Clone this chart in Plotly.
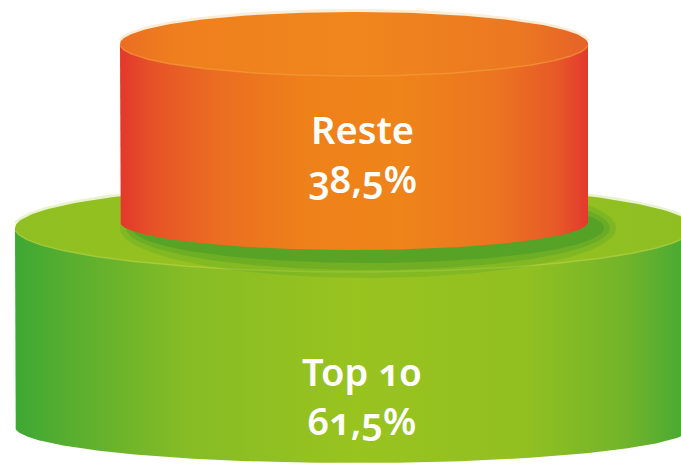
import numpy as np
import plotly.graph_objects as go

# ---- data ----
categories = ["Top 10", "Reste"]          # bottom to top
values = [61.5, 38.5]                      # percent
labels = [f"{c}<br>{v:.1f}%".replace(".", ",") for c, v in zip(categories, values)]

# ---- style / geometry (pixel-like axis space) ----
W, H = 681, 464
CX = 354
rx = [339, 234]
top_cy = [228, 44]
top_ry = [44, 32]
bot_cy = [427, 222]
bot_ry = [36, 28]
label_y = [395, 153]
label_x = 362

side_scales = [
    [[0, "#3DA834"], [0.08, "#58AE2F"], [0.25, "#86BC25"], [0.5, "#99C31F"],
     [0.75, "#92C021"], [0.9, "#72B42A"], [1, "#42A934"]],
    [[0, "#E2382C"], [0.07, "#E65227"], [0.2, "#EB6C22"], [0.4, "#EE8119"],
     [0.6, "#EF841A"], [0.8, "#EC7520"], [0.93, "#E75A28"], [1, "#E3392D"]],
]
top_scales = [
    [[0, "#8FBF22"], [0.5, "#9CC41E"], [1, "#8DBE23"]],
    [[0, "#EB6E23"], [0.12, "#EF7F1E"], [0.5, "#F0861C"], [0.85, "#EC7822"], [1, "#E66228"]],
]
rim_colors = ["#B4D245", "#F59A3A"]
glow_colors = ["#DDEBB0", "#FBE2B8"]


def arc(cx, cy, a, b, t0, t1, n=240):
    t = np.linspace(t0, t1, n)
    return cx + a * np.cos(t), cy + b * np.sin(t)


fig = go.Figure()

for i in range(len(values)):
    # side
    bx, by = arc(CX, bot_cy[i], rx[i], bot_ry[i], np.pi, 0)
    xs = np.concatenate([[CX - rx[i]], bx, [CX + rx[i], CX - rx[i]]])
    ys = np.concatenate([[top_cy[i]], by, [top_cy[i], top_cy[i]]])
    fig.add_trace(go.Scatter(x=xs, y=ys, mode="lines", fill="toself", line=dict(width=0),
                             fillgradient=dict(type="horizontal", colorscale=side_scales[i]),
                             hoverinfo="skip", showlegend=False))
    # soft glow on back edge of top face
    gx, gy = arc(CX, top_cy[i], rx[i] + 1, top_ry[i] + 1, np.pi + 0.1, 2 * np.pi - 0.1)
    fig.add_trace(go.Scatter(x=gx, y=gy, mode="lines", line=dict(width=4, color=glow_colors[i]),
                             opacity=0.6, hoverinfo="skip", showlegend=False))
    # top face
    tx, ty = arc(CX, top_cy[i], rx[i], top_ry[i], 0, 2 * np.pi)
    fig.add_trace(go.Scatter(x=tx, y=ty, mode="lines", fill="toself", line=dict(width=0),
                             fillgradient=dict(type="horizontal", colorscale=top_scales[i]),
                             hoverinfo="skip", showlegend=False))
    # front rim highlight
    fx, fy = arc(CX, top_cy[i], rx[i], top_ry[i], 0.05, np.pi - 0.05)
    fig.add_trace(go.Scatter(x=fx, y=fy, mode="lines", line=dict(width=1.5, color=rim_colors[i]),
                             opacity=0.7, hoverinfo="skip", showlegend=False))
    if i == 0:
        # soft shadow cast by upper cylinder onto the lower top face
        for k, (da, db, op) in enumerate([(14, 22, 0.18), (8, 14, 0.25), (2, 7, 0.35)]):
            sx, sy = arc(CX + 14, bot_cy[1] + 6, rx[1] + da, bot_ry[1] + db, 0, 2 * np.pi)
            fig.add_trace(go.Scatter(x=sx, y=sy, mode="lines", fill="toself", line=dict(width=0),
                                     fillcolor="#2F8F2A", opacity=op,
                                     hoverinfo="skip", showlegend=False))

for i in range(len(values)):
    fig.add_annotation(x=label_x, y=label_y[i], text=labels[i], showarrow=False,
                       font=dict(family="Noto Sans", size=38, color="white", weight=600),
                       xanchor="center", yanchor="middle", align="center")

fig.update_layout(
    width=W, height=H, margin=dict(l=0, r=0, t=0, b=0),
    paper_bgcolor="white", plot_bgcolor="white",
    xaxis=dict(range=[0, W], visible=False, fixedrange=True),
    yaxis=dict(range=[H, 0], visible=False, fixedrange=True),
)

post = ("document.body.style.margin='0';document.body.style.overflow='hidden';"
        "document.querySelectorAll('.annotation-text').forEach(function(t){"
        "t.style.fontFeatureSettings='\"onum\" 1';t.style.fontVariantNumeric='oldstyle-nums';});")
fig.write_html("out.html", post_script=post, config={"displayModeBar": False})
